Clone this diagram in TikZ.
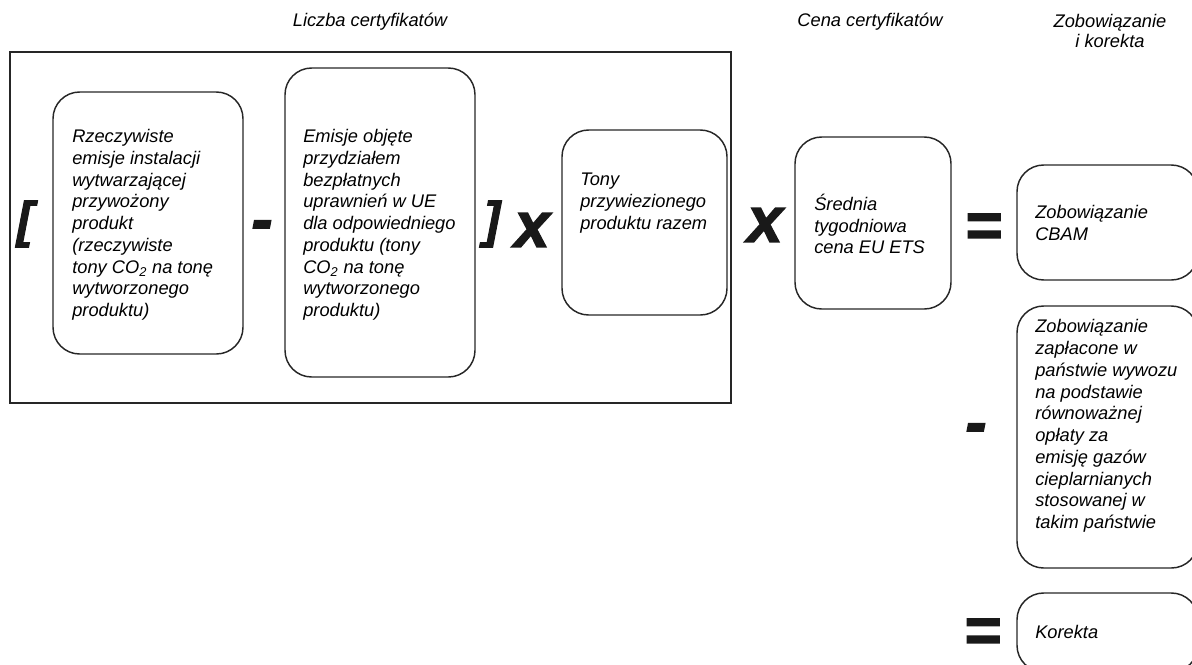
\documentclass[tikz,border=0pt]{standalone}
\usepackage{fontspec}
\setmainfont{Liberation Sans}
\newfontfamily\heavyfont[BoldItalicFeatures={FakeBold=2}]{Liberation Sans}
\begin{document}
\begin{tikzpicture}[x=0.75pt,y=-0.75pt,
  frame/.style={draw=black!85, line width=1pt, inner sep=0pt},
  cbox/.style={draw=black!85, line width=1.1pt, rounded corners=20pt, inner sep=0pt},
  txt/.style={anchor=west, inner sep=0pt, align=left, text=black,
    font=\fontsize{13.7pt}{16.3pt}\selectfont\itshape},
  ttl/.style={inner sep=0pt, align=center, text=black,
    font=\fontsize{13.7pt}{15.5pt}\selectfont\itshape},
  opf/.style={inner sep=0pt, text=black!90,
    font=\fontsize{48pt}{50pt}\selectfont\heavyfont\bfseries\itshape},
  opb/.style={inner sep=0pt, text=black!90,
    font=\fontsize{37.5pt}{40pt}\selectfont\heavyfont\bfseries\itshape}]
\useasboundingbox (0,0) rectangle (1192,664);
\clip (0,0) rectangle (1192,664);

% titles
\node[ttl] (t1) at (370,22) {Liczba certyfikatów};
\node[ttl] (t2) at (870,22) {Cena certyfikatów};
\node[ttl] (t3) at (1110,31) {Zobowiązanie\\i korekta};

% frame
\node[frame, minimum width=721*0.75pt, minimum height=351*0.75pt] (fr) at (370.5,227.5) {};

% boxes
\node[cbox, minimum width=190*0.75pt, minimum height=262*0.75pt] (b1) at (148,223) {};
\node[cbox, minimum width=190*0.75pt, minimum height=309*0.75pt] (b2) at (380,222.5) {};
\node[cbox, minimum width=165*0.75pt, minimum height=185*0.75pt] (b3) at (644.5,222.5) {};
\node[cbox, minimum width=156*0.75pt, minimum height=172*0.75pt] (b4) at (873,223) {};
\node[cbox, minimum width=181*0.75pt, minimum height=115*0.75pt] (b5) at (1107.5,222.5) {};
\node[cbox, minimum width=181*0.75pt, minimum height=262*0.75pt] (b6) at (1107.5,437) {};
\node[cbox, minimum width=181*0.75pt, minimum height=79*0.75pt] (b7) at (1107.5,632.5) {};

% texts
\node[txt] (x1) at (72,225) {Rzeczywiste\\emisje instalacji\\wytwarzającej\\przywożony\\produkt\\(rzeczywiste\\tony CO\textsubscript{2} na tonę\\wytworzonego\\produktu)};
\node[txt] (x2) at (303,225) {Emisje objęte\\przydziałem\\bezpłatnych\\uprawnień w UE\\dla odpowiedniego\\produktu (tony\\CO\textsubscript{2} na tonę\\wytworzonego\\produktu)};
\node[txt] (x3) at (580,203) {Tony\\przywiezionego\\produktu razem};
\node[txt] (x4) at (814,224) {Średnia\\tygodniowa\\cena EU ETS};
\node[txt] (x5) at (1035,223) {Zobowiązanie\\CBAM};
\node[txt] (x6) at (1035,426) {Zobowiązanie\\zapłacone w\\państwie wywozu\\na podstawie\\równoważnej\\opłaty za\\emisję gazów\\cieplarnianych\\stosowanej w\\takim państwie};
\node[txt] (x7) at (1035,632) {Korekta};

% operators
\node[opb] (ob1) at (25,224) {[};
\node[opf, anchor=base] (om1) at (262,241) {-};
\node[opb] (ob2) at (492,224) {]};
\node[opf] (ox1) at (532,230) {x};
\node[opf] (ox2) at (765,225) {x};
\node[opf, anchor=base] (oe1) at (983,247) {=};
\node[opf, anchor=base] (om2) at (976,444) {-};
\node[opf, anchor=base] (oe2) at (982,652) {=};
\end{tikzpicture}
\end{document}
